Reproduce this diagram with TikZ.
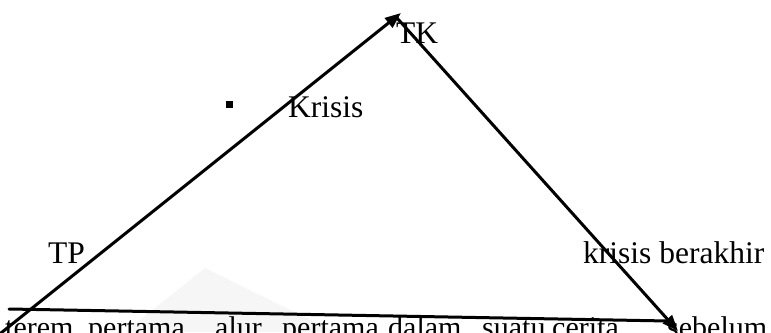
\documentclass[tikz,border=0pt]{standalone}
\usepackage{fontspec}
\setmainfont{Liberation Serif}
\usetikzlibrary{arrows.meta}
\begin{document}
\begin{tikzpicture}[x=1pt,y=-1pt,
  lbl/.style={inner sep=0pt,anchor=base west,font=\fontsize{31.5}{37}\selectfont},
  body/.style={inner sep=0pt,anchor=base west,font=\fontsize{30}{36}\selectfont},
  edge/.style={line width=3pt,line cap=round},
  tip/.style={-{Triangle[length=16pt,width=12pt]}}]
\useasboundingbox (0,0) rectangle (771,332);
\clip (0,0) rectangle (771,332);
% faint watermark
\fill[gray!7] (125,332) -- (205,268) -- (335,332) -- cycle;
% text
\node[lbl] (tk) at (396,43) {TK};
\node[lbl] (krisis) at (288,117) {Krisis};
\node[fill=black,minimum size=7pt,inner sep=0pt] (bullet) at (229.5,104.5) {};
\node[lbl] (tp) at (48,263) {TP};
\node[lbl] (berakhir) at (583,263) {krisis berakhir};
\node[body] (w1) at (5,337) {terem};
\node[body] (w2) at (88,337) {pertama,};
\node[body] (w3) at (215,337) {alur};
\node[body] (w4) at (282,337) {pertama};
\node[body] (w5) at (388,337) {dalam};
\node[body] (w6) at (482,337) {suatu};
\node[body] (w7) at (552,337) {cerita};
\node[body] (w8) at (667,337) {sebelum};
% line ends
\coordinate (a) at (1,333);
\coordinate (b) at (401,13);
\coordinate (c) at (397,18);
\coordinate (d) at (678,331);
\coordinate (e) at (9,309);
\coordinate (f) at (668,321);
% lines
\draw[edge] (e) -- (f);
\draw[edge,tip] (a) -- (b);
\draw[edge,tip] (c) -- (d);
\end{tikzpicture}
\end{document}
